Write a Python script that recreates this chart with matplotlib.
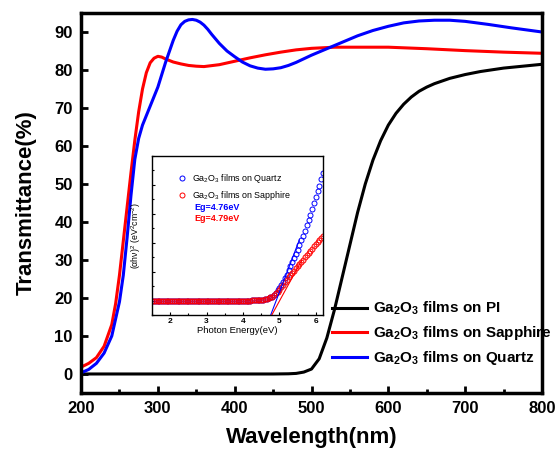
"""Transmittance spectra of Ga2O3 films with a Tauc-plot inset."""

import matplotlib

matplotlib.use("Agg")
import matplotlib.pyplot as plt
from matplotlib.ticker import MultipleLocator

# main panel: transmittance (%) vs wavelength (nm)
pi_nm = [200, 300, 400, 450, 470, 480, 490, 500, 510, 520, 530, 540, 550, 560,
         570, 580, 590, 600, 610, 620, 630, 640, 650, 660, 680, 700, 720, 750,
         780, 800]
pi_T = [0, 0, 0, 0, 0.05, 0.15, 0.5, 1.3, 4, 9.5, 17, 25.5, 34, 42.5,
        50, 56.3, 61.4, 65.5, 68.6, 71, 72.9, 74.4, 75.5, 76.4, 77.8, 78.8, 79.6,
        80.5, 81.1, 81.5]

sap_nm = [200, 210, 220, 230, 240, 245, 250, 255, 260, 265, 270, 275, 280, 285,
          290, 295, 300, 305, 310, 320, 330, 340, 350, 360, 380, 400, 420, 440,
          460, 480, 500, 530, 560, 600, 650, 700, 750, 800]
sap_T = [1.8, 2.8, 4.3, 7.3, 13, 18.5, 26, 35, 44, 53, 61.5, 69, 75, 79.3,
         81.9, 83.1, 83.6, 83.4, 82.9, 82.1, 81.6, 81.2, 81, 80.9, 81.4, 82.3, 83.2,
         84, 84.7, 85.3, 85.7, 86, 86, 86, 85.6, 85.1, 84.7, 84.4]

qz_nm = [200, 210, 220, 230, 240, 250, 255, 260, 265, 270, 275, 280, 290, 300,
         310, 320, 325, 330, 335, 340, 345, 350, 355, 360, 365, 370, 380, 390,
         400, 410, 420, 430, 440, 450, 460, 470, 480, 500, 520, 540, 560, 580,
         600, 620, 640, 660, 680, 700, 730, 760, 800]
qz_T = [0.3, 1.2, 2.8, 5.5, 10, 19, 26, 36, 47, 56.5, 62, 65.5, 70.5, 75.5,
        82, 87.8, 90.2, 91.9, 92.8, 93.2, 93.3, 93.1, 92.6, 91.8, 90.7, 89.4, 87,
        85, 83.5, 82.1, 81.1, 80.5, 80.2, 80.3, 80.6, 81.2, 82, 83.9, 85.6, 87.3,
        89, 90.4, 91.5, 92.4, 92.9, 93.1, 93.1, 92.8, 92, 91.1, 90]

labels = [r"Ga$_2$O$_3$ films on PI", r"Ga$_2$O$_3$ films on Sapphire",
          r"Ga$_2$O$_3$ films on Quartz"]

# inset: (alpha h nu)^2 vs photon energy (arb. units)
energy = [1.5, 1.55, 1.6, 1.65, 1.7, 1.75, 1.8, 1.85, 1.9, 1.95,
          2.0, 2.05, 2.1, 2.15, 2.2, 2.25, 2.3, 2.35, 2.4, 2.45,
          2.5, 2.55, 2.6, 2.65, 2.7, 2.75, 2.8, 2.85, 2.9, 2.95,
          3.0, 3.05, 3.1, 3.15, 3.2, 3.25, 3.3, 3.35, 3.4, 3.45,
          3.5, 3.55, 3.6, 3.65, 3.7, 3.75, 3.8, 3.85, 3.9, 3.95,
          4.0, 4.05, 4.1, 4.15, 4.2, 4.25, 4.3, 4.35, 4.4, 4.45,
          4.5, 4.55, 4.6, 4.65, 4.7, 4.75, 4.8, 4.85, 4.9, 4.95,
          5.0, 5.05, 5.1, 5.15, 5.2, 5.25, 5.3, 5.35, 5.4, 5.45,
          5.5, 5.55, 5.6, 5.65, 5.7, 5.75, 5.8, 5.85, 5.9, 5.95,
          6.0, 6.05, 6.1, 6.15, 6.2]
tauc_qz = [0.5, 0.5, 0.5, 0.5, 0.5, 0.5, 0.5, 0.5, 0.5, 0.5,
           0.5, 0.5, 0.5, 0.5, 0.5, 0.5, 0.5, 0.5, 0.5, 0.5,
           0.5, 0.5, 0.5, 0.5, 0.5, 0.5, 0.5, 0.5, 0.5, 0.5,
           0.5, 0.5, 0.5, 0.5, 0.5, 0.5, 0.5, 0.5, 0.5, 0.5,
           0.5, 0.5, 0.5, 0.5, 0.5, 0.5, 0.5, 0.5, 0.5, 0.5,
           0.5, 0.5, 0.5, 0.5, 0.5, 0.51, 0.51, 0.51, 0.51, 0.52,
           0.52, 0.53, 0.54, 0.56, 0.58, 0.61, 0.64, 0.7, 0.77, 0.85,
           0.93, 1.04, 1.15, 1.27, 1.4, 1.54, 1.68, 1.82, 1.96, 2.1,
           2.25, 2.41, 2.58, 2.75, 2.92, 3.1, 3.28, 3.47, 3.66, 3.87,
           4.08, 4.28, 4.48, 4.69, 4.91]
tauc_sap = [0.5, 0.5, 0.5, 0.5, 0.5, 0.5, 0.5, 0.5, 0.5, 0.5,
            0.5, 0.5, 0.5, 0.5, 0.5, 0.5, 0.5, 0.5, 0.5, 0.5,
            0.5, 0.5, 0.5, 0.5, 0.5, 0.5, 0.5, 0.5, 0.5, 0.5,
            0.5, 0.5, 0.5, 0.5, 0.5, 0.5, 0.5, 0.5, 0.5, 0.5,
            0.5, 0.5, 0.5, 0.5, 0.5, 0.5, 0.5, 0.5, 0.5, 0.5,
            0.5, 0.5, 0.5, 0.5, 0.5, 0.51, 0.51, 0.51, 0.51, 0.52,
            0.52, 0.53, 0.54, 0.56, 0.58, 0.61, 0.64, 0.69, 0.75, 0.81,
            0.88, 0.96, 1.05, 1.13, 1.22, 1.3, 1.38, 1.46, 1.53, 1.61,
            1.68, 1.76, 1.84, 1.92, 2.0, 2.08, 2.15, 2.23, 2.3, 2.38,
            2.46, 2.53, 2.6, 2.67, 2.73]
tauc_labels = [r"Ga$_2$O$_3$ films on Quartz", r"Ga$_2$O$_3$ films on Sapphire"]

# linear fits: x-intercept (Eg) and slope
eg_qz, slope_qz = 4.76, 3.3
eg_sap, slope_sap = 4.79, 2.3

plt.rcParams["font.family"] = ["Liberation Sans", "DejaVu Sans"]
plt.rcParams["mathtext.default"] = "regular"

fig = plt.figure(figsize=(5.59, 4.53), dpi=100)
ax = fig.add_axes([0.145, 0.1325, 0.8245, 0.8388])

ax.plot(pi_nm, pi_T, color="black", lw=2.2, label=labels[0])
ax.plot(sap_nm, sap_T, color="#ff0000", lw=2.2, label=labels[1])
ax.plot(qz_nm, qz_T, color="#0000ff", lw=2.2, label=labels[2])

ax.set_xlim(200, 800)
ax.set_ylim(-5, 95)
ax.xaxis.set_major_locator(MultipleLocator(100))
ax.xaxis.set_minor_locator(MultipleLocator(50))
ax.yaxis.set_major_locator(MultipleLocator(10))
ax.tick_params(which="both", direction="in", top=False, right=False, width=2)
ax.tick_params(which="major", length=5, labelsize=12, pad=6)
ax.tick_params(which="minor", length=3)
for lab in ax.get_xticklabels() + ax.get_yticklabels():
    lab.set_fontweight("bold")
for sp in ax.spines.values():
    sp.set_linewidth(2.5)
ax.set_xlabel("Wavelength(nm)", fontsize=16, fontweight="bold", labelpad=8)
ax.set_ylabel("Transmittance(%)", fontsize=16, fontweight="bold", labelpad=13)

ax.legend(loc="upper left", bbox_to_anchor=(0.544, 0.245), frameon=False,
          borderpad=0, borderaxespad=0, handlelength=2.3, handletextpad=0.4,
          labelspacing=0.45, prop={"weight": "bold", "size": 11})

# inset
ax_in = fig.add_axes([0.272, 0.3046, 0.306, 0.351])
ax_in.plot(energy, tauc_qz, "o", mfc="none", mec="#0000ff", ms=3.6, mew=0.7,
           label=tauc_labels[0])
ax_in.plot(energy, tauc_sap, "o", mfc="none", mec="#ff0000", ms=3.6, mew=0.7,
           label=tauc_labels[1])
ax_in.plot([eg_qz, eg_qz + 2.6 / slope_qz], [0, 2.6], color="#0000ff", lw=0.8)
ax_in.plot([eg_sap, eg_sap + 1.9 / slope_sap], [0, 1.9], color="#ff0000", lw=0.8)

ax_in.set_xlim(1.5, 6.2)
ax_in.set_ylim(0, 5.5)
ax_in.xaxis.set_major_locator(MultipleLocator(1))
ax_in.xaxis.set_minor_locator(MultipleLocator(0.5))
ax_in.set_yticks([0.5, 1.5, 2.5, 3.5, 4.5])
ax_in.yaxis.set_minor_locator(MultipleLocator(0.5))
ax_in.tick_params(which="both", direction="in", top=False, right=False, width=0.8)
ax_in.tick_params(which="major", length=2.5, labelsize=6, pad=2, labelleft=False)
ax_in.tick_params(which="minor", length=1.5)
for lab in ax_in.get_xticklabels():
    lab.set_fontweight("bold")
for sp in ax_in.spines.values():
    sp.set_linewidth(1.0)
ax_in.set_xlabel("Photon Energy(eV)", fontsize=6.8, labelpad=1)
ax_in.set_ylabel(r"(αhν)$^2$ (eV$^2$cm$^{-2}$)", fontsize=6.3, labelpad=3)
ax_in.legend(loc="upper left", bbox_to_anchor=(0.15, 0.9), frameon=False,
             borderpad=0, borderaxespad=0, handlelength=1.0, handletextpad=0.6,
             labelspacing=0.5, prop={"size": 6.4})
ax_in.text(0.246, 0.679, "Eg=4.76eV", color="#0000ff", fontsize=6.5,
           fontweight="bold", va="center", transform=ax_in.transAxes)
ax_in.text(0.246, 0.61, "Eg=4.79eV", color="#ff0000", fontsize=6.5,
           fontweight="bold", va="center", transform=ax_in.transAxes)

fig.savefig("out.png", dpi=100)
